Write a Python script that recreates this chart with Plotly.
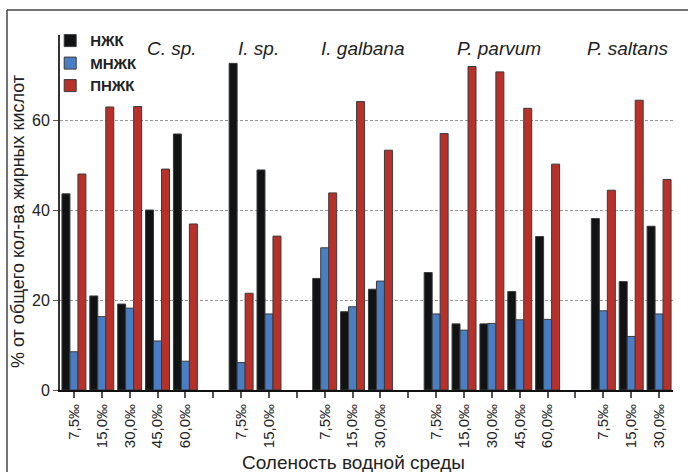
import plotly.graph_objects as go

# Slot labels (empty strings are the gaps between species groups)
salinity_labels = ["7,5‰", "15,0‰", "30,0‰", "45,0‰", "60,0‰", "",
                   "7,5‰", "15,0‰", "",
                   "7,5‰", "15,0‰", "30,0‰", "",
                   "7,5‰", "15,0‰", "30,0‰", "45,0‰", "60,0‰", "",
                   "7,5‰", "15,0‰", "30,0‰"]

species = ["C. sp.", "I. sp.", "I. galbana", "P. parvum", "P. saltans"]

nzhk = [43.6, 20.9, 19.1, 40.0, 56.9, None,
        72.6, 48.9, None,
        24.8, 17.4, 22.4, None,
        26.1, 14.7, 14.7, 21.9, 34.1, None,
        38.1, 24.1, 36.4]
mnzhk = [8.5, 16.3, 18.2, 10.9, 6.4, None,
         6.1, 16.9, None,
         31.6, 18.5, 24.2, None,
         16.9, 13.3, 14.8, 15.6, 15.7, None,
         17.6, 11.9, 16.9]
pnzhk = [48.0, 62.9, 63.0, 49.1, 36.9, None,
         21.5, 34.2, None,
         43.8, 64.1, 53.3, None,
         57.0, 71.9, 70.7, 62.6, 50.2, None,
         44.4, 64.4, 46.8]

series_names = ["НЖК", "МНЖК", "ПНЖК"]
series_colors = ["#101214", "#4a7ec4", "#b8302a"]

# x positions of the species labels (data units along the slot axis)
species_x = [3.52, 6.61, 10.34, 15.26, 19.85]

slots = list(range(len(salinity_labels)))

fig = go.Figure()
for name, vals, col in zip(series_names, [nzhk, mnzhk, pnzhk], series_colors):
    fig.add_trace(go.Bar(
        x=slots, y=vals, name="<b>" + name + "</b>",
        marker=dict(color=col, line=dict(color="#3a3a3a", width=1)),
    ))

for sp, sx in zip(species, species_x):
    fig.add_annotation(x=sx, y=76, xref="x", yref="y", text="<i>" + sp + "</i>",
                       showarrow=False, font=dict(size=19, color="#222"),
                       xanchor="center", yanchor="middle")

# axis titles
fig.add_annotation(x=(18 - 60) / 613, y=(390 - 222) / 355, xref="paper", yref="paper",
                   text="% от общего кол-ва жирных кислот", textangle=-90,
                   showarrow=False, font=dict(size=18, color="#222"),
                   xanchor="center", yanchor="middle")
fig.add_annotation(x=(353 - 60) / 613, y=(390 - 462) / 355, xref="paper", yref="paper",
                   text="Соленость водной среды",
                   showarrow=False, font=dict(size=19, color="#222"),
                   xanchor="center", yanchor="middle")

# cropped outer frame (top and left edges)
fx = (7 - 60) / 613
fy = (390 - 10) / 355
fig.add_shape(type="line", xref="paper", yref="paper", x0=fx, y0=fy, x1=1.2, y1=fy,
              line=dict(color="#444", width=1.5))
fig.add_shape(type="line", xref="paper", yref="paper", x0=fx, y0=fy, x1=fx, y1=-0.5,
              line=dict(color="#444", width=1.5))

fig.update_layout(
    width=688, height=472,
    margin=dict(l=60, r=15, t=35, b=82),
    paper_bgcolor="white", plot_bgcolor="white",
    barmode="group", bargap=0.14, bargroupgap=0,
    font=dict(family="Liberation Sans, Arial, sans-serif", color="#222"),
    showlegend=True,
    legend=dict(x=-0.016, y=1.03, xanchor="left", yanchor="top",
                bgcolor="rgba(0,0,0,0)", font=dict(size=15, color="#222"),
                tracegroupgap=0, itemwidth=30),
    xaxis=dict(range=[-0.5, len(salinity_labels) - 0.5],
               tickmode="array", tickvals=slots, ticktext=salinity_labels,
               tickangle=-90, tickfont=dict(size=15, color="#222"),
               ticks="outside", ticklen=6, tickcolor="#555", tickwidth=1.5,
               showline=True, linecolor="#111", linewidth=2,
               showgrid=False, zeroline=False),
    yaxis=dict(range=[0, 78.9], tickvals=[0, 20, 40, 60],
               tickfont=dict(size=16, color="#222"),
               ticks="outside", ticklen=5, tickcolor="#555",
               showline=True, linecolor="#333", linewidth=2,
               showgrid=True, gridcolor="#999", gridwidth=1, griddash="3px,2px",
               zeroline=False),
)

fig.write_html("out.html")
